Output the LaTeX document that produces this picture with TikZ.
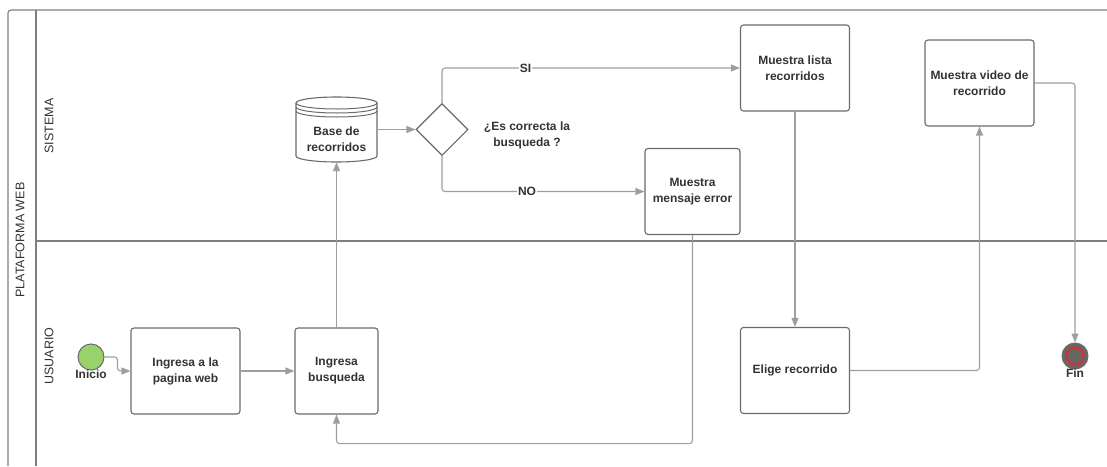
\documentclass[tikz,border=0pt]{standalone}
\usepackage{fontspec}
\setmainfont{Liberation Sans}
\usetikzlibrary{arrows.meta,shapes.geometric}
\definecolor{lineagray}{HTML}{7F7F7F}
\definecolor{cajagray}{HTML}{6B6B6B}
\definecolor{flechagray}{HTML}{9E9E9E}
\definecolor{textogray}{HTML}{333333}
\definecolor{verdeinicio}{HTML}{99D26B}
\definecolor{grisfin}{HTML}{666666}
\definecolor{rojofin}{HTML}{D0323A}
\begin{document}
\begin{tikzpicture}[
            x=1pt, y=-1pt,
            every node/.style={text=textogray, font=\bfseries\fontsize{12}{16}\selectfont},
            pool/.style={draw=lineagray, line width=1.1pt},
            lane/.style={font=\fontsize{12.5}{15}\selectfont, rotate=90},
            tarea/.style={draw=cajagray, line width=1.1pt, fill=white, rounded corners=3pt,
                align=center, minimum width=109pt, minimum height=86pt},
            decision/.style={draw=cajagray, line width=1.1pt, fill=white, diamond,
                minimum size=52pt, inner sep=0pt},
            flow/.style={draw=flechagray, line width=1.1pt, rounded corners=3pt,
                -{Triangle[length=9pt,width=7pt]}},
            rama/.style={fill=white, inner sep=1pt}
        ]
            \useasboundingbox (0,0) rectangle (1107,466);
            \draw[pool, rounded corners=3pt] (1107,10) -- (8,10) -- (8,466);
            \draw[pool] (36,10) -- (36,466);
            \draw[pool] (36,241) -- (1107,241);
            \node[lane] (pool) at (20,240) {PLATAFORMA WEB};
            \node[lane] (sistema) at (49,126) {SISTEMA};
            \node[lane] (usuario) at (49,356) {USUARIO};

            \draw[draw=cajagray, line width=1.1pt, fill=white]
                (296,103) -- (296,156) arc[start angle=180, end angle=0, x radius=40.5, y radius=6]
                -- (377,103) arc[start angle=0, end angle=-180, x radius=40.5, y radius=6] -- cycle;
            \draw[draw=cajagray, line width=1pt]
                (296,103) arc[start angle=180, end angle=0, x radius=40.5, y radius=6]
                (296,107) arc[start angle=180, end angle=0, x radius=40.5, y radius=6]
                (296,111) arc[start angle=180, end angle=0, x radius=40.5, y radius=6];

            \node[circle, draw=cajagray, line width=1pt, fill=verdeinicio, minimum size=26pt,
                label={[label distance=-4pt]below:Inicio}] (inicio) at (91,357) {};
            \node[tarea] (web) at (185.5,371) {Ingresa a la\\pagina web};
            \node[tarea, minimum width=83pt] (busq) at (336.5,371) {Ingresa\\busqueda};
            \node[align=center, minimum width=81pt, minimum height=46pt] (db) at (336.5,139) {Base de\\recorridos};
            \node[decision] (dia) at (442,129.5) {};
            \node[align=center] (pregunta) at (527,135) {¿Es correcta la\\busqueda ?};
            \node[tarea] (lista) at (795,68) {Muestra lista\\recorridos};
            \node[tarea, minimum width=95pt] (error) at (692.5,191.5) {Muestra\\mensaje error};
            \node[tarea] (elige) at (795,370.5) {Elige recorrido};
            \node[tarea] (video) at (979.5,83) {Muestra video de\\recorrido};
            \node[circle, draw=cajagray, line width=1pt, fill=grisfin, minimum size=26pt,
                label={[label distance=-4pt]below:Fin}] (fin) at (1075,356) {};
            \draw[draw=rojofin, line width=2.2pt] (fin) circle[radius=8.5];

            \draw[flow] (inicio.east) -- ++(13,0) |- (web.west);
            \draw[flow] (web.east) -- (busq.west);
            \draw[flow] (busq.north) -- (db.south);
            \draw[flow] (db.east |- dia.west) -- (dia.west);
            \draw[flow] (dia.north) |- node[rama, pos=0.64] {SI} (lista.west);
            \draw[flow] (dia.south) |- node[rama, pos=0.71] {NO} (error.west);
            \draw[flow] (error.south) |- ([yshift=-29pt]busq.south) -- (busq.south);
            \draw[flow] (lista.south) -- (elige.north);
            \draw[flow] (elige.east) -| (video.south);
            \draw[flow] (video.east) -| (fin.north);
        \end{tikzpicture}
\end{document}
